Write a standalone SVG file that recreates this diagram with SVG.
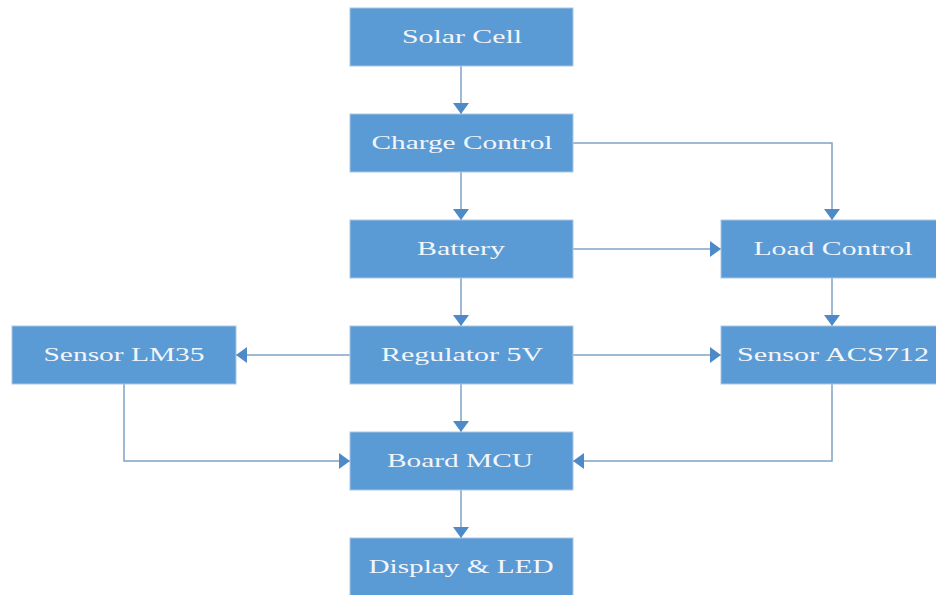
<svg xmlns="http://www.w3.org/2000/svg" width="936" height="595" viewBox="0 0 936 595">
<style>
.box{fill:#5B9BD5;stroke:#A9C6E6;stroke-width:1}
.lbl{font-family:"Liberation Serif","Times New Roman",serif;font-size:18px;fill:#F2F6FB;text-anchor:middle}
.conn{fill:none;stroke:#7FA3C9;stroke-width:1.5}
</style>
<defs>
<marker id="ah" markerWidth="11" markerHeight="16" refX="11" refY="8" orient="auto" markerUnits="userSpaceOnUse" viewBox="0 0 11 16">
<path d="M0,0 L11,8 L0,16 Z" fill="#4F8AC8"/>
</marker>
</defs>
<rect width="936" height="595" fill="#FFFFFF"/>
<g id="connectors">
<path class="conn" d="M461,66 V114" marker-end="url(#ah)"/>
<path class="conn" d="M573,143 H832 V220" marker-end="url(#ah)"/>
<path class="conn" d="M461,172 V220" marker-end="url(#ah)"/>
<path class="conn" d="M573,249 H721" marker-end="url(#ah)"/>
<path class="conn" d="M832,278 V326" marker-end="url(#ah)"/>
<path class="conn" d="M461,278 V326" marker-end="url(#ah)"/>
<path class="conn" d="M350,355 H236" marker-end="url(#ah)"/>
<path class="conn" d="M573,355 H721" marker-end="url(#ah)"/>
<path class="conn" d="M461,384 V432" marker-end="url(#ah)"/>
<path class="conn" d="M124,384 V461 H350" marker-end="url(#ah)"/>
<path class="conn" d="M832,384 V461 H573" marker-end="url(#ah)"/>
<path class="conn" d="M461,490 V538" marker-end="url(#ah)"/>
</g>
<g id="solar-cell"><rect class="box" x="350" y="8" width="223" height="58"/><text class="lbl" x="462" y="43" textLength="120" lengthAdjust="spacingAndGlyphs">Solar Cell</text></g>
<g id="charge-control"><rect class="box" x="350" y="114" width="223" height="58"/><text class="lbl" x="462" y="149" textLength="181" lengthAdjust="spacingAndGlyphs">Charge Control</text></g>
<g id="battery"><rect class="box" x="350" y="220" width="223" height="58"/><text class="lbl" x="461" y="255" textLength="88" lengthAdjust="spacingAndGlyphs">Battery</text></g>
<g id="regulator"><rect class="box" x="350" y="326" width="223" height="58"/><text class="lbl" x="462" y="361" textLength="162" lengthAdjust="spacingAndGlyphs">Regulator 5V</text></g>
<g id="board-mcu"><rect class="box" x="350" y="432" width="223" height="58"/><text class="lbl" x="460" y="467" textLength="146" lengthAdjust="spacingAndGlyphs">Board MCU</text></g>
<g id="display-led"><rect class="box" x="350" y="538" width="223" height="58"/><text class="lbl" x="461" y="573" textLength="185" lengthAdjust="spacingAndGlyphs">Display &amp; LED</text></g>
<g id="sensor-lm35"><rect class="box" x="12" y="326" width="224" height="58"/><text class="lbl" x="124" y="361" textLength="161" lengthAdjust="spacingAndGlyphs">Sensor LM35</text></g>
<g id="load-control"><rect class="box" x="721" y="220" width="224" height="58"/><text class="lbl" x="833" y="255" textLength="159" lengthAdjust="spacingAndGlyphs">Load Control</text></g>
<g id="sensor-acs712"><rect class="box" x="721" y="326" width="224" height="58"/><text class="lbl" x="833" y="361" textLength="192" lengthAdjust="spacingAndGlyphs">Sensor ACS712</text></g>
</svg>
